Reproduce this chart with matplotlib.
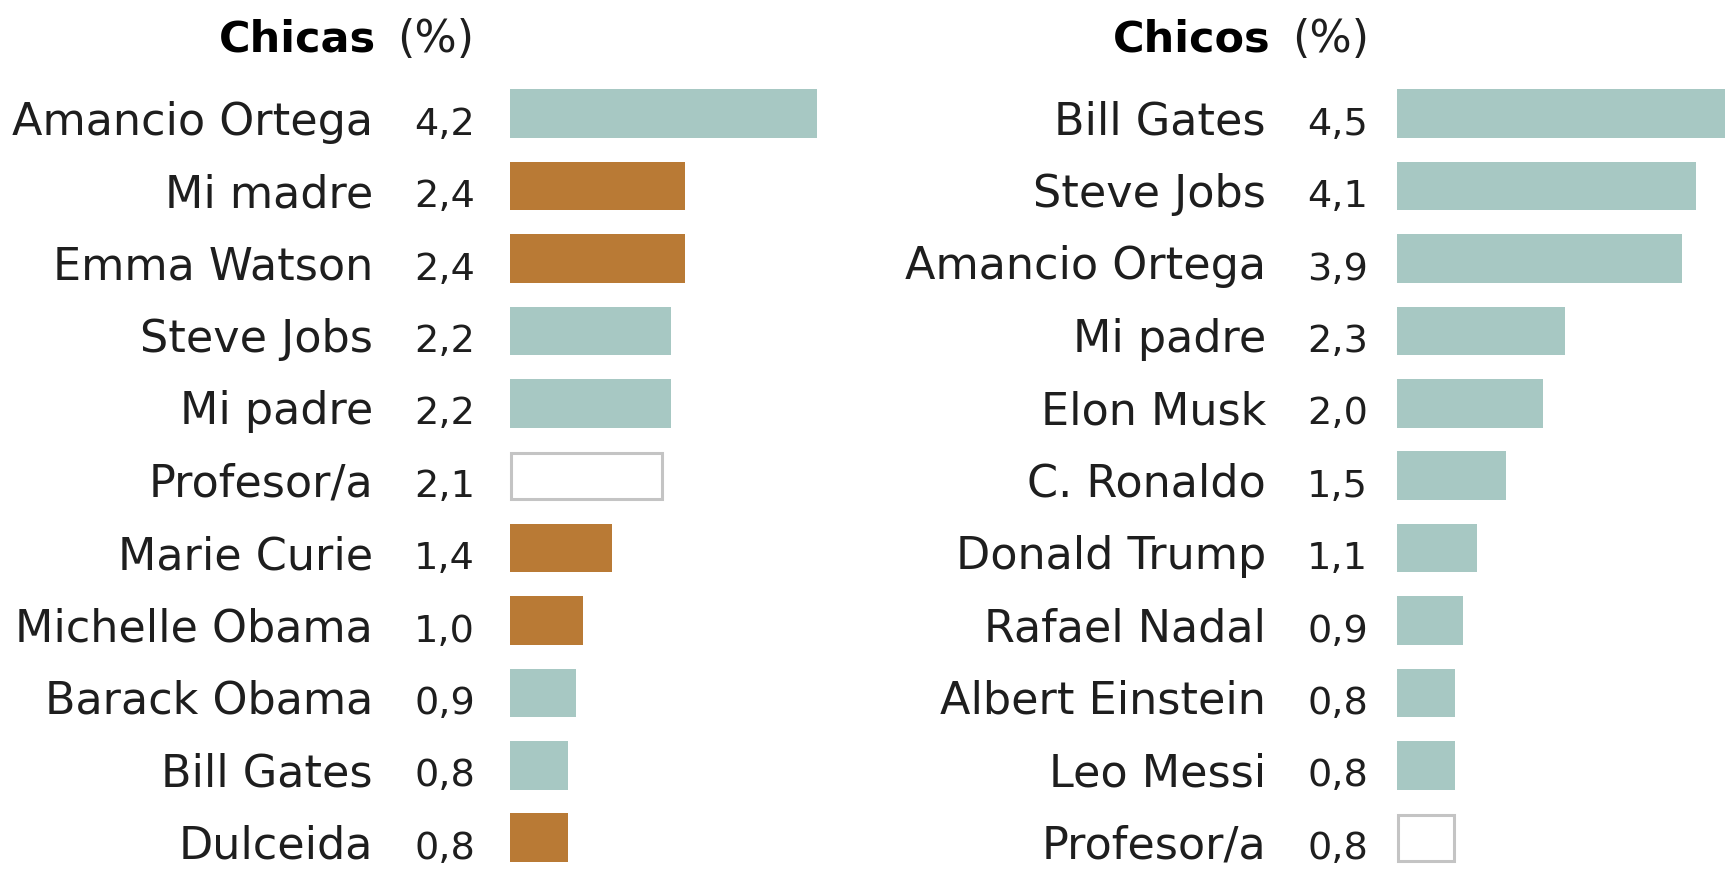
import numpy as np
import matplotlib
matplotlib.use('Agg')
import matplotlib.pyplot as plt

# Chicas (%)
girls_names = ['Amancio Ortega', 'Mi madre', 'Emma Watson', 'Steve Jobs', 'Mi padre',
               'Profesor/a', 'Marie Curie', 'Michelle Obama', 'Barack Obama',
               'Bill Gates', 'Dulceida']
girls_values = [4.2, 2.4, 2.4, 2.2, 2.2, 2.1, 1.4, 1.0, 0.9, 0.8, 0.8]
girls_groups = ['man', 'woman', 'woman', 'man', 'man', 'teacher', 'woman', 'woman',
                'man', 'man', 'woman']

# Chicos (%)
boys_names = ['Bill Gates', 'Steve Jobs', 'Amancio Ortega', 'Mi padre', 'Elon Musk',
              'C. Ronaldo', 'Donald Trump', 'Rafael Nadal', 'Albert Einstein',
              'Leo Messi', 'Profesor/a']
boys_values = [4.5, 4.1, 3.9, 2.3, 2.0, 1.5, 1.1, 0.9, 0.8, 0.8, 0.8]
boys_groups = ['man'] * 10 + ['teacher']

colors = {'man': '#a7c8c3', 'woman': '#b97a35', 'teacher': 'white'}
TXT = '#1e1e1e'

W, H = 1731, 869
fig = plt.figure(figsize=(W / 100, H / 100), dpi=100)

px_per_unit = 73.0
row_px = 72.4
top_px = 113.7 - row_px / 2
ax_h = H - top_px
ylo = -0.5 + ax_h / row_px


def panel(x0, names, values, groups, lab_off, val_off):
    ax_w = W - x0
    ax = fig.add_axes([x0 / W, 0, ax_w / W, ax_h / H])
    ax.set_xlim(0, ax_w / px_per_unit)
    ax.set_ylim(ylo, -0.5)
    ax.axis('off')
    for i, (nm, v, g) in enumerate(zip(names, values, groups)):
        if g == 'teacher':
            # outlined box, drawn slightly inside so the stroke matches the bar size
            ax.barh(i, v - 0.03, left=0.015, height=0.63, color='white',
                    edgecolor='#c4c4c4', linewidth=2.2, clip_on=False)
        else:
            ax.barh(i, v, height=0.67, color=colors[g], clip_on=False)
        ax.annotate(nm, xy=(0, i), xytext=(lab_off, -21), textcoords='offset pixels',
                    ha='right', va='baseline', fontsize=32, color=TXT)
        ax.annotate(('%.1f' % v).replace('.', ','), xy=(0, i), xytext=(val_off, -21),
                    textcoords='offset pixels', ha='right', va='baseline',
                    fontsize=27.5, color=TXT)
    return ax


panel(510, girls_names, girls_values, girls_groups, -137, -35)
panel(1397, boys_names, boys_values, boys_groups, -131, -29)

# titles
for bold, bold_right, pct_right in [('Chicas', 376, 474), ('Chicos', 1271, 1369)]:
    fig.text(bold_right / W, 1 - 52 / H, bold, ha='right', va='baseline',
             fontsize=31, fontweight='bold', color='black')
    fig.text(pct_right / W, 1 - 52 / H, '(%)', ha='right', va='baseline',
             fontsize=32, color=TXT)

fig.savefig('out.png', dpi=100, facecolor='white')
